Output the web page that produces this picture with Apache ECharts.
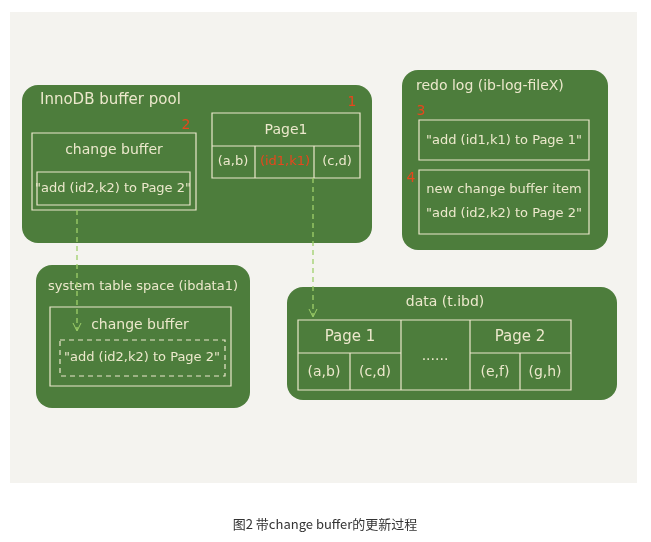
<!DOCTYPE html>
<html><head><meta charset="utf-8">
<script src="https://cdn.jsdelivr.net/npm/echarts@6/dist/echarts.min.js"></script>
<style>body{margin:0;background:#fff}#c{width:651px;height:542px}</style>
</head><body><div id="c"></div>
<script>
// labels of the diagram
const poolTitle = 'InnoDB buffer pool';
const redoTitle = 'redo log (ib-log-fileX)';
const sysTitle = 'system table space (ibdata1)';
const dataTitle = 'data (t.ibd)';
const cbTitle = 'change buffer';
const cbEntry = '"add (id2,k2) to Page 2"';
const page1Cells = ['(a,b)', '(id1,k1)', '(c,d)'];
const redoItems = ['"add (id1,k1) to Page 1"', 'new change buffer item\n"add (id2,k2) to Page 2"'];
const diskCells = ['(a,b)', '(c,d)', '(e,f)', '(g,h)'];
const stepNums = ['1', '2', '3', '4'];
const caption = '图2 带change buffer的更新过程';

const G = '#4d7d3c', T = '#ece8cc', R = '#e8461c', F = 'Comic Sans MS, DejaVu Sans, sans-serif';
const els = [];
const rect = (x, y, w, h, r, extra) => els.push(Object.assign({type: 'rect', shape: {x, y, width: w, height: h, r: r || 0}, style: {fill: G}}, extra || {}));
const box = (x, y, w, h, dash) => els.push({type: 'rect', shape: {x, y, width: w, height: h}, style: {fill: 'none', stroke: T, lineWidth: 1.2, lineDash: dash ? [5, 4] : null}});
const txt = (x, y, s, o) => els.push({type: 'text', x, y, style: Object.assign({text: s, fill: T, font: '14px ' + F, align: 'center', verticalAlign: 'middle'}, o || {})});
const line = (x1, y1, x2, y2, o) => els.push({type: 'line', shape: {x1, y1, x2, y2}, style: Object.assign({stroke: T, lineWidth: 1.2}, o || {})});

rect(10, 12, 627, 471, 0, {style: {fill: '#f4f3ef'}});
// buffer pool
rect(22, 85, 350, 158, 16);
txt(40, 100, poolTitle, {align: 'left', font: '15px ' + F});
txt(352, 102, stepNums[0], {fill: R});
box(32, 133, 164, 77);
txt(114, 150, cbTitle);
box(37, 172, 153, 33);
txt(113, 189, cbEntry, {font: '13px ' + F});
txt(186, 125, stepNums[1], {fill: R});
box(212, 113, 148, 65);
line(212, 146, 360, 146); line(255, 146, 255, 178); line(314, 146, 314, 178);
txt(286, 130, 'Page1');
txt(233, 162, page1Cells[0], {font: '13px ' + F});
txt(285, 162, page1Cells[1], {font: '13px ' + F, fill: R});
txt(337, 162, page1Cells[2], {font: '13px ' + F});
// redo log
rect(402, 70, 206, 180, 16);
txt(416, 86, redoTitle, {align: 'left', font: '14px ' + F});
txt(421, 111, stepNums[2], {fill: R});
box(419, 120, 170, 40);
txt(504, 141, redoItems[0], {font: '13px ' + F});
txt(411, 178, stepNums[3], {fill: R});
box(419, 170, 170, 64);
txt(504, 202, redoItems[1], {font: '13px ' + F, lineHeight: 24});
// system table space
rect(36, 265, 214, 143, 16);
txt(48, 287, sysTitle, {align: 'left', font: '13px ' + F});
box(50, 307, 181, 79);
txt(140, 325, cbTitle);
box(60, 340, 165, 36, true);
txt(142, 358, cbEntry, {font: '13px ' + F});
// data file
rect(287, 287, 330, 113, 16);
txt(445, 302, dataTitle);
box(298, 320, 273, 70);
line(298, 353, 401, 353); line(470, 353, 571, 353);
line(401, 320, 401, 390); line(470, 320, 470, 390);
line(350, 353, 350, 390); line(520, 353, 520, 390);
txt(350, 337, 'Page 1', {font: '15px ' + F});
txt(520, 337, 'Page 2', {font: '15px ' + F});
txt(435, 356, '......');
[324, 375, 495, 545].forEach((x, i) => txt(x, 372, diskCells[i], {font: '14px ' + F}));
// dashed arrows
const A = {stroke: '#9fd06a', lineWidth: 1.3, lineDash: [5, 4]};
line(77, 210, 77, 330, A); line(313, 178, 313, 316, A);
els.push({type: 'polyline', shape: {points: [[73, 323], [77, 331], [81, 323]]}, style: {stroke: '#9fd06a', fill: 'none'}});
els.push({type: 'polyline', shape: {points: [[309, 309], [313, 317], [317, 309]]}, style: {stroke: '#9fd06a', fill: 'none'}});
els.push({type: 'text', x: 325, y: 524, style: {text: caption, fill: '#333', font: '13px "Noto Sans CJK SC", sans-serif', align: 'center', verticalAlign: 'middle'}});

const chart = echarts.init(document.getElementById('c'));
chart.setOption({animation: false, graphic: {elements: els}});
</script></body></html>
